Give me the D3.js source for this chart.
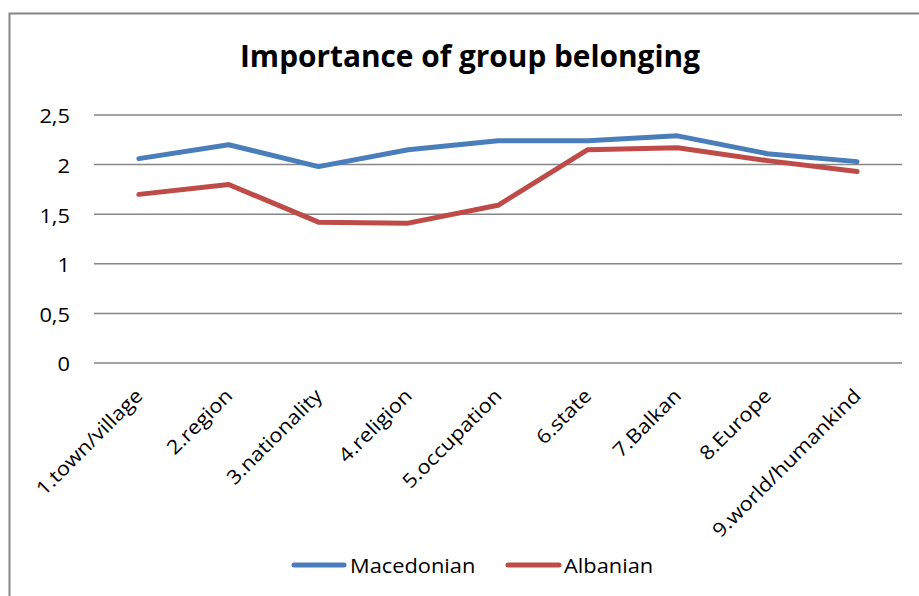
<!DOCTYPE html>
<html><head><meta charset="utf-8">
<script src="https://cdn.jsdelivr.net/npm/d3@7"></script>
<style>body{margin:0;background:#fff}svg{display:block}</style>
</head><body>
<script>
const categories = ["1.town/village","2.region","3.nationality","4.religion","5.occupation","6.state","7.Balkan","8.Europe","9.world/humankind"];
const macedonian = [2.06, 2.20, 1.98, 2.15, 2.24, 2.24, 2.29, 2.11, 2.03];
const albanian = [1.70, 1.80, 1.42, 1.41, 1.59, 2.15, 2.17, 2.04, 1.93];
const yTicks = [0, 0.5, 1, 1.5, 2, 2.5];
const seriesNames = ["Macedonian", "Albanian"];
const colors = ["#4A7EBB", "#BE4B48"];
const title = "Importance of group belonging";

const W = 919, H = 596;
const svg = d3.select("body").append("svg").attr("width", W).attr("height", H);
const font = "'Open Sans', sans-serif";
const FS = 19.5, SX = 1.12;

// outer border
svg.append("rect").attr("x", 9.5).attr("y", 13.5).attr("width", W + 20).attr("height", H + 20)
  .attr("fill", "none").attr("stroke", "#868686").attr("stroke-width", 2);

const x = d3.scaleBand().domain(categories).range([94, 902]);
const y = d3.scaleLinear().domain([0, 2.5]).range([363, 115]);

// gridlines
svg.append("g").selectAll("line").data(yTicks).join("line")
  .attr("x1", 94).attr("x2", 902)
  .attr("y1", d => y(d)).attr("y2", d => y(d))
  .attr("stroke", "#868686").attr("stroke-width", 1.5);

// y axis labels
const yAxis = d3.axisLeft(y).tickValues(yTicks).tickSize(0).tickPadding(0)
  .tickFormat(d => String(d).replace(".", ","));
const ya = svg.append("g").attr("transform", "translate(70,0)").call(yAxis);
ya.select(".domain").remove();
ya.selectAll("text").attr("font-family", font).attr("font-size", FS).attr("fill", "#000")
  .attr("x", 0).attr("dy", "0.4em").attr("transform", `scale(${SX},1)`);

// x axis labels
const xAxis = d3.axisBottom(x).tickSize(0).tickPadding(0);
const xa = svg.append("g").call(xAxis);
xa.select(".domain").remove();
xa.selectAll(".tick").attr("transform", d => `translate(${x(d) + x.bandwidth() / 2 + 5},397)`);
xa.selectAll("text").attr("font-family", font).attr("font-size", FS).attr("fill", "#000")
  .attr("text-anchor", "end").attr("dy", 0).attr("y", 0)
  .attr("transform", `rotate(-45) scale(${SX},1)`);

// lines
const line = d3.line().x((d, i) => x(categories[i]) + x.bandwidth() / 2).y(d => y(d));
[macedonian, albanian].forEach((s, k) => {
  svg.append("path").datum(s).attr("d", line).attr("fill", "none")
    .attr("stroke", colors[k]).attr("stroke-width", 5)
    .attr("stroke-linejoin", "round").attr("stroke-linecap", "round");
});

// title
svg.append("text").attr("x", 470).attr("y", 67).attr("text-anchor", "middle")
  .attr("font-family", font).attr("font-weight", "bold").attr("font-size", 31).attr("fill", "#000")
  .attr("textLength", 460).attr("lengthAdjust", "spacingAndGlyphs")
  .text(title);

// legend
const legendItems = [{x1: 294, x2: 344, tx: 350}, {x1: 508, x2: 559, tx: 564}];
legendItems.forEach((li, k) => {
  svg.append("line").attr("x1", li.x1).attr("x2", li.x2).attr("y1", 565).attr("y2", 565)
    .attr("stroke", colors[k]).attr("stroke-width", 5).attr("stroke-linecap", "round");
  svg.append("text").attr("transform", `translate(${li.tx},573) scale(${SX},1)`)
    .attr("font-family", font).attr("font-size", FS)
    .attr("fill", "#000").text(seriesNames[k]);
});
</script>
</body></html>
